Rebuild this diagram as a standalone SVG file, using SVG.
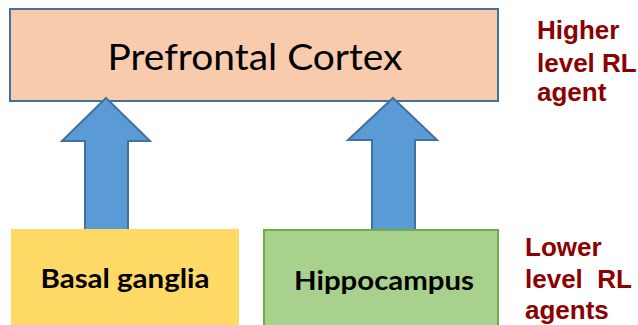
<svg xmlns="http://www.w3.org/2000/svg" width="638" height="325" viewBox="0 0 638 325">
<style>
.arrow{fill:#5B9BD5;stroke:#41719C;stroke-width:2;stroke-linejoin:miter}
.box-text{font-family:Lato,"Open Sans","Liberation Sans",sans-serif;fill:#000;text-anchor:middle}
.bold{font-weight:bold}
.side{font-family:"Liberation Sans",Arial,sans-serif;font-weight:bold;font-size:26px;fill:#8B0000}
</style>
<rect width="638" height="325" fill="#fff"/>
<g id="prefrontal-cortex">
<rect x="10" y="9" width="488" height="92" fill="#F8CBAD" stroke="#41719C" stroke-width="2"/>
<text class="box-text" x="255" y="70" font-size="36" textLength="295" lengthAdjust="spacingAndGlyphs">Prefrontal Cortex</text>
</g>
<g id="connectors">
<polygon class="arrow" points="106,98 150,141 128,141 128,232 85,232 85,141 62,141"/>
<polygon class="arrow" points="393,98 437,140 415,140 415,232 372,232 372,140 348,140"/>
</g>
<g id="basal-ganglia">
<rect x="11" y="229" width="228" height="100" fill="#FFD966"/>
<text class="box-text bold" x="125" y="288" font-size="26" textLength="169" lengthAdjust="spacingAndGlyphs">Basal ganglia</text>
</g>
<g id="hippocampus">
<rect x="264" y="230" width="234" height="100" fill="#A9D18E" stroke="#70AD47" stroke-width="2"/>
<text class="box-text bold" x="384" y="290" font-size="26" textLength="180" lengthAdjust="spacingAndGlyphs">Hippocampus</text>
</g>
<g id="higher-label">
<text class="side" x="537" y="39">Higher</text>
<text class="side" x="537" y="72">level RL</text>
<text class="side" x="537" y="101">agent</text>
</g>
<g id="lower-label">
<text class="side" x="525" y="256">Lower</text>
<text class="side" x="525" y="288" xml:space="preserve">level  RL</text>
<text class="side" x="525" y="319">agents</text>
</g>
</svg>
